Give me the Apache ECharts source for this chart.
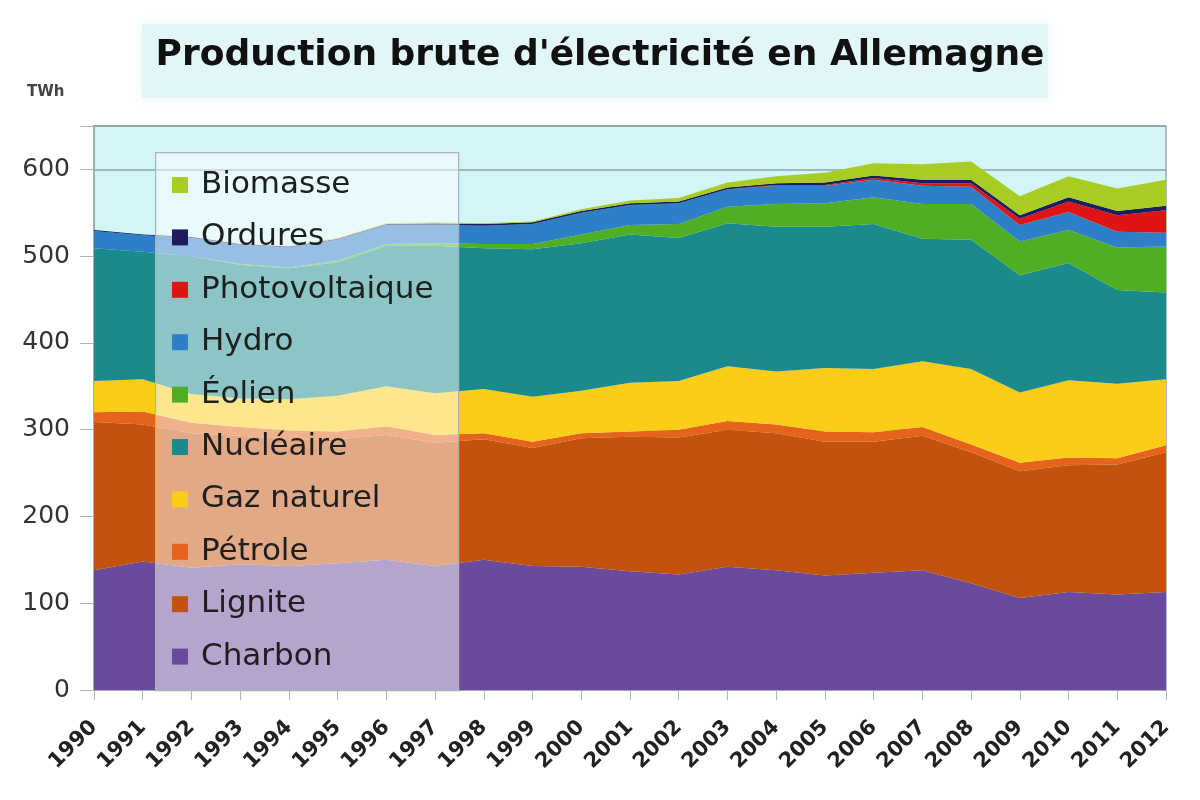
<!DOCTYPE html>
<html>
<head>
<meta charset="utf-8">
<script src="https://cdn.jsdelivr.net/npm/echarts@6/dist/echarts.min.js"></script>
<style>
html,body{margin:0;padding:0;background:#fff;}
#c{width:1200px;height:800px;}
</style>
</head>
<body>
<div id="c"></div>
<script>
const years = ['1990','1991','1992','1993','1994','1995','1996','1997','1998','1999','2000','2001','2002','2003','2004','2005','2006','2007','2008','2009','2010','2011','2012'];
const charbon = [138,148,141,145,143,146,150,143,150,143,142,137,133,142,138,132,135,138,123,106,113,110,113];
const lignite = [171,158,155,148,146,143,144,142,139,136,148,155,158,158,158,154,151,155,151,146,146,150,161];
const petrole = [11,15,12,10,10,9,10,9,7,7,6,6,9,10,10,12,11,10,9,10,9,7,8];
const gaz = [36,37,33,33,36,41,46,48,51,52,49,56,56,63,61,73,73,76,87,81,89,86,76];
const nucleaire = [153,147,159,154,151,154,162,170,162,170,170,171,165,165,167,163,167,141,149,135,135,108,100];
const eolien = [0,0,0,1,1,2,2,3,5,6,10,11,16,19,26,27,31,40,41,39,38,49,53];
const hydro = [20,19,21,22,23,24,22,21,21,23,25,23,24,20,21,20,20,21,20,19,21,18,16];
const photovoltaique = [0,0,0,0,0,0,0,0,0,0,0,0,0,0,1,1,2,3,4,7,12,19,26];
const ordures = [1,1,1,1,1,1,1,2,2,2,2,2,2,2,2,3,3,4,4,4,5,5,5];
const biomasse = [0,0,0,0,0,1,1,1,1,1,2,3,4,6,8,11,14,18,21,22,24,26,30];
const yTicks = [0,100,200,300,400,500,600];

const layers = [
  ['Charbon', charbon, '#6a4a9c'],
  ['Lignite', lignite, '#c2520c'],
  ['Pétrole', petrole, '#e5631a'],
  ['Gaz naturel', gaz, '#fbcd18'],
  ['Nucléaire', nucleaire, '#1b8a8c'],
  ['Éolien', eolien, '#4fae24'],
  ['Hydro', hydro, '#2d7fc8'],
  ['Photovoltaique', photovoltaique, '#e01414'],
  ['Ordures', ordures, '#1c1c5e'],
  ['Biomasse', biomasse, '#a8cc24']
];

const chart = echarts.init(document.getElementById('c'), null, {renderer:'canvas'});
chart.setOption({
  animation: false,
  backgroundColor: '#ffffff',
  title: {
    text: "Production brute d'électricité en Allemagne",
    left: 'center',
    top: 38,
    padding: 0,
    textStyle: {fontFamily: 'DejaVu Sans', fontWeight: 'bold', fontSize: 36, color: '#111'}
  },
  graphic: {
    elements: [
      {type:'rect', left:142, top:24, z:0, shape:{width:906, height:74},
       style:{fill:'#e2f6f8', shadowBlur:12, shadowColor:'#e2f6f8'}},
      {type:'text', left:27, top:85, z:5,
       style:{text:'TWh', font:'bold 15px "DejaVu Sans"', fill:'#444'}},
      {type:'rect', left:155, top:152, z:3, shape:{width:303, height:538},
       style:{fill:'rgba(255,255,255,0.5)', stroke:'#a8b4b4', lineWidth:1.2}}
    ]
  },
  legend: {
    orient: 'vertical',
    left: 155,
    top: 152,
    padding: [16, 10, 14, 17],
    itemGap: 18.4,
    itemWidth: 16,
    itemHeight: 16,
    icon: 'rect',
    z: 10,
    data: layers.map(l => l[0]).slice().reverse(),
    textStyle: {fontFamily: 'DejaVu Sans', fontSize: 31, lineHeight: 34, color: '#1e1e1e', padding: [0, 0, 0, 8]}
  },
  grid: {
    left: 94, right: 34, top: 126, bottom: 110,
    show: true, backgroundColor: '#d2f5f8', borderColor: '#9aabab', borderWidth: 1.5
  },
  xAxis: {
    type: 'category',
    data: years,
    boundaryGap: false,
    axisLine: {show: true, lineStyle: {color: '#9aabab', width: 1.5}},
    axisTick: {show: true, length: 10, interval: 0, lineStyle: {color: '#b0b8b8'}},
    axisLabel: {interval: 0, rotate: 45, margin: 34, fontFamily: 'DejaVu Sans', fontWeight: 'bold', fontSize: 21, color: '#222'},
    splitLine: {show: false}
  },
  yAxis: {
    type: 'value',
    min: 0, max: 650, interval: 100,
    axisLine: {show: true, lineStyle: {color: '#9aabab', width: 1.5}},
    axisTick: {show: true, length: 14, lineStyle: {color: '#aab6b6'}},
    axisLabel: {margin: 24, fontFamily: 'DejaVu Sans', fontSize: 25, color: '#333',
      formatter: v => (yTicks.indexOf(v) >= 0 ? String(v) : '')},
    splitLine: {show: true, lineStyle: {color: '#8ea4a6', width: 1.5}}
  },
  series: layers.map(l => ({
    name: l[0],
    type: 'line',
    stack: 'total',
    data: l[1],
    symbol: 'none',
    smooth: false,
    lineStyle: {width: 0},
    areaStyle: {color: l[2], opacity: 1},
    itemStyle: {color: l[2]},
    z: 2
  }))
});
</script>
</body>
</html>
